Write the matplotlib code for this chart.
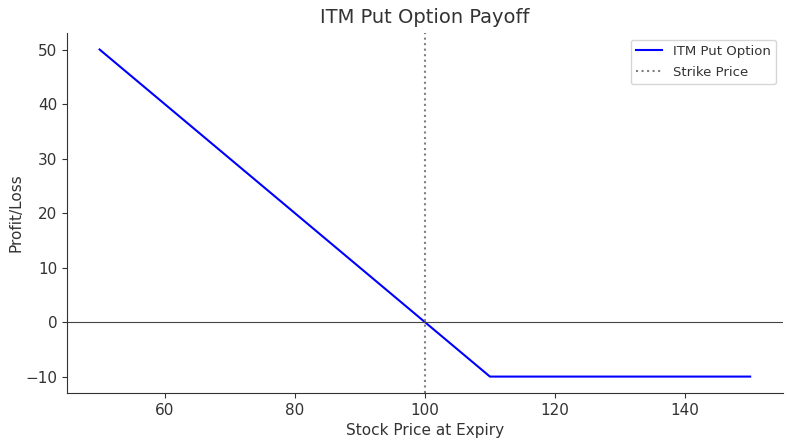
import matplotlib
matplotlib.use("Agg")
import matplotlib.pyplot as plt

stock_prices = [50, 110, 150]
payoff = [50, -10, -10]
strike_price = 100
title = "ITM Put Option Payoff"
xlabel = "Stock Price at Expiry"
ylabel = "Profit/Loss"

text_color = "#333333"
plt.rcParams.update({
    "font.family": "DejaVu Sans",
    "text.color": text_color,
    "axes.labelcolor": text_color,
    "xtick.color": text_color,
    "ytick.color": text_color,
    "axes.edgecolor": text_color,
})

fig = plt.figure(figsize=(7.89, 4.42), dpi=100)
ax = fig.add_axes([0.085, 0.111, 0.907, 0.814])
ax.plot(stock_prices, payoff, color="blue", lw=1.5, label="ITM Put Option")
ax.axhline(0, color="#444444", lw=0.8)
ax.axvline(strike_price, color="gray", ls=":", lw=1.5, label="Strike Price")
ax.set_title(title, fontsize=14, pad=7)
ax.set_xlabel(xlabel, fontsize=11)
ax.set_ylabel(ylabel, fontsize=11, labelpad=1)
ax.tick_params(labelsize=11)
ax.set_xticks([60, 80, 100, 120, 140])
ax.set_yticks([-10, 0, 10, 20, 30, 40, 50])
ax.spines["top"].set_visible(False)
ax.spines["right"].set_visible(False)
ax.legend(loc="upper right", fontsize=9.5, labelspacing=0.6)
fig.savefig("out.png", dpi=100)
